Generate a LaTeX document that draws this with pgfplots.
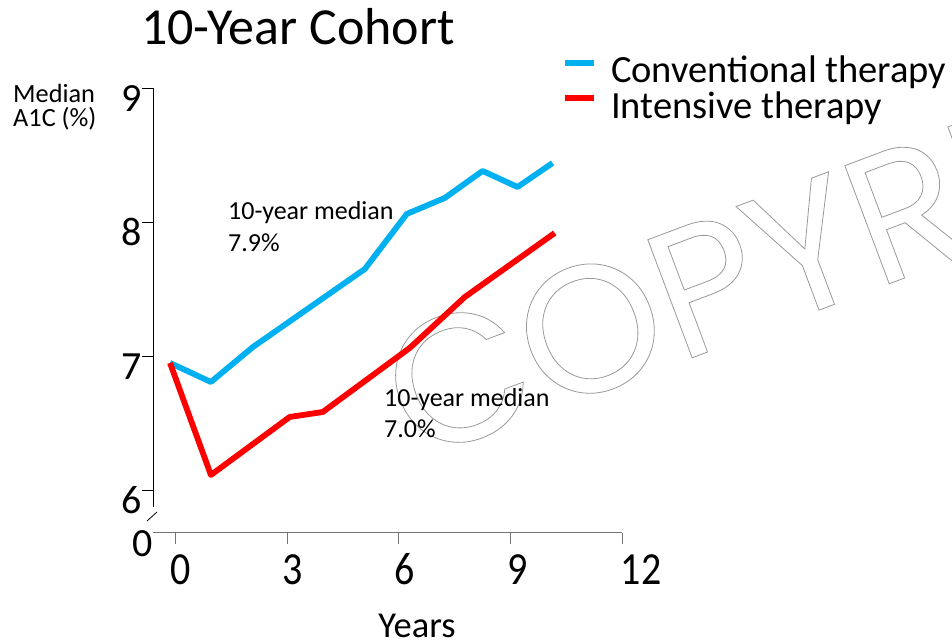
\documentclass[border=0pt]{standalone}
\usepackage{pgfplots}
\pgfplotsset{compat=1.18}
\usepackage{graphicx}
\usepackage{fontspec}
\setmainfont{Carlito}
\newfontfamily\wmfont{Poppins}
\definecolor{convblue}{HTML}{00B0F0}
\definecolor{intred}{HTML}{FF0000}
\newcommand\lab[2]{\makebox[0pt][c]{\hspace{#1pt}\hspace{#1pt}\scalebox{1}[1.15]{#2}}}
\begin{document}
\begin{tikzpicture}
\path[use as bounding box] (-153pt,-111pt) rectangle (799pt,533pt);
% watermark (behind everything)
\begin{scope}
\clip (-153pt,-111pt) rectangle (799pt,533pt);
\node[rotate=20.6, anchor=base west, inner sep=0pt, text=black!40] at (262pt,71pt)
  {\wmfont\fontsize{181}{181}\selectfont\special{pdf:literal direct 1 Tr 0.8 w}COPYRIGHT\special{pdf:literal direct 0 Tr}};
\end{scope}
\begin{axis}[
  scale only axis, width=469pt, height=445pt,
  xmin=-0.618, xmax=12, ymin=5.679, ymax=9,
  axis x line=bottom, axis y line=left,
  x axis line style={-, draw=black!55, line width=1pt},
  y axis line style={draw=none},
  tick align=outside,
  xtick={0,3,6,9,12},
  xticklabels={\lab{5}{0},\lab{5}{3},\lab{6}{6},\lab{7}{9},\lab{19}{12}},
  ytick={6,7,8,9}, yticklabels={6,7,8,9},
  extra y ticks={5.679}, extra y tick labels={0},
  extra y tick style={major tick length=0pt},
  x tick style={draw=black!55, line width=1pt},
  y tick style={draw=black, line width=0.8pt},
  major tick length=11pt,
  tick label style={font=\fontsize{40}{40}\selectfont, inner sep=0pt},
  xticklabel style={anchor=base, yshift=-40pt},
  yticklabel style={anchor=base east, yshift=-24pt},
  clip=false,
  legend style={at={(0.872,1.072)}, anchor=north west, draw=none, fill=none,
    inner sep=0pt, font=\fontsize{38.5}{38.5}\selectfont, nodes={inner sep=0pt},
    column sep=14pt, row sep=7pt},
  legend cell align=left,
  legend image code/.code={\draw[#1, line width=6pt] (0pt,7pt) -- (29pt,7pt);
    \path[draw=none] (0pt,-7pt) -- (29pt,-7pt);},
]
\addplot[convblue, line width=5.8pt, line join=round] coordinates {
  (-0.16,6.948) (0.94,6.806) (2.07,7.067) (5.08,7.649) (6.21,8.060)
  (7.23,8.179) (8.25,8.381) (9.19,8.261) (10.13,8.440)};
\addlegendentry{Conventional therapy}
\addplot[intred, line width=5.8pt, line join=round] coordinates {
  (-0.16,6.948) (0.94,6.112) (3.06,6.545) (3.95,6.582) (6.29,7.060)
  (7.77,7.440) (10.19,7.918)};
\addlegendentry{Intensive therapy}
\end{axis}
% y axis line with break
\draw[black, line width=0.8pt] (0pt,445pt) -- (0pt,26pt);
\draw[black, line width=0.8pt] (-6pt,12pt) -- (4pt,21pt);
% texts
\node[anchor=base west, inner sep=0pt] at (-12pt,488pt) {\fontsize{52}{52}\selectfont 10-Year Cohort};
\node[anchor=base west, inner sep=0pt] at (-140pt,430pt) {\fontsize{26.3}{26.3}\selectfont Median};
\node[anchor=base west, inner sep=0pt] at (-140pt,406pt) {\fontsize{26.3}{26.3}\selectfont A1C (\%)};
\node[anchor=base west, inner sep=0pt] at (75pt,313pt) {\fontsize{26}{26}\selectfont 10-year median};
\node[anchor=base west, inner sep=0pt] at (75pt,281pt) {\fontsize{26}{26}\selectfont 7.9\%};
\node[anchor=base west, inner sep=0pt] at (231pt,126pt) {\fontsize{26}{26}\selectfont 10-year median};
\node[anchor=base west, inner sep=0pt] at (231pt,95pt) {\fontsize{26}{26}\selectfont 7.0\%};
\node[anchor=base, inner sep=0pt] at (264pt,-105pt) {\fontsize{36.5}{36.5}\selectfont Years};
\end{tikzpicture}
\end{document}
